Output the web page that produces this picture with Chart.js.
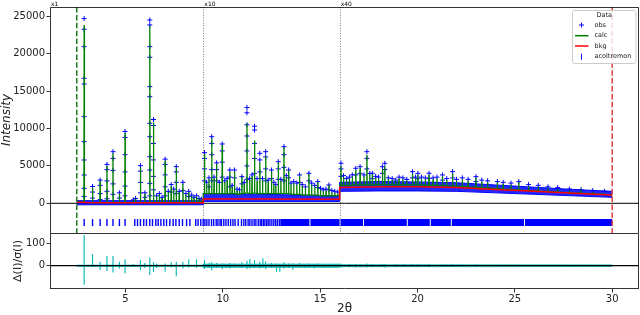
<!DOCTYPE html>
<html><head><meta charset="utf-8">
<script src="https://cdn.jsdelivr.net/npm/chart.js@4.4.0/dist/chart.umd.min.js"></script>
<style>
html,body{margin:0;padding:0;background:#fff;width:640px;height:315px;overflow:hidden}
canvas{position:absolute;left:0}
#top{top:0;width:640px;height:233px}
#bot{top:233px;width:640px;height:82px}
</style></head><body>
<canvas id="top" width="640" height="233"></canvas>
<canvas id="bot" width="640" height="82"></canvas>
<script>
// ---------------- data ----------------
const xLimits = [1.125, 31.375];
const dataRange = [2.5, 30];
const scaleBreaks = [9, 16];
const scaleLabels = ['x1', 'x10', 'x40'];
const xTicks = [5, 10, 15, 20, 25, 30];
const yTicksTop = [0, 5000, 10000, 15000, 20000, 25000];
const yTicksBot = [0, 100];
const yLimTop = [-3970, 26240];
const yLimBot = [-104, 146];
const legendLabels = ['obs', 'calc', 'bkg', 'acoltremon'];

// peak positions (2θ), calc foot level, calc apex, observed points along each peak (scaled as displayed)
const pkX = [2.88,3.31,3.70,4.05,4.36,4.69,4.98,5.40,5.52,5.77,6.00,6.25,6.44,6.60,6.74,6.88,7.04,7.20,7.35,7.48,7.61,7.76,7.95,8.10,8.25,8.40,8.52,8.65,8.78,8.90,
 9.06,9.17,9.29,9.43,9.55,9.68,9.82,9.97,10.10,10.22,10.36,10.48,10.60,10.73,10.86,10.98,11.10,11.24,11.38,11.50,11.63,11.76,11.90,12.04,12.20,12.33,12.50,12.62,12.72,12.85,12.98,13.14,13.26,13.38,13.50,13.64,13.80,13.94,14.08,14.24,14.42,14.56,14.72,14.88,15.02,15.16,15.30,15.45,15.60,15.75,15.90,
 16.07,16.20,16.35,16.50,16.65,16.83,17.05,17.25,17.40,17.55,17.68,17.85,18.00,18.20,18.32,18.50,18.70,18.88,19.05,19.25,19.45,19.74,19.90,20.02,20.20,20.40,20.59,20.80,21.00,21.28,21.50,21.80,22.00,22.30,22.60,23.00,23.30,23.60,24.10,24.40,24.80,25.20,25.70,26.20,26.70,27.20,27.80,28.40,29.00,29.60];
const pkFoot = [120,100,100,100,100,100,100,100,100,100,100,120,110,100,100,100,110,100,100,100,110,100,110,100,100,100,100,100,100,100,
 1300,1300,1300,1300,1300,1300,1300,1300,1300,1300,1300,1300,1300,1200,1200,1300,1300,1400,1300,1300,1400,1300,1300,1300,1300,1300,1300,1300,1300,1300,1300,1300,1300,1300,1200,1200,1200,1200,1100,1100,1100,1100,1100,1100,1000,1000,1000,1000,1000,1000,1000,
 2400,2400,2400,2400,2400,2450,2450,2450,2500,2450,2450,2450,2450,2500,2500,2450,2450,2450,2450,2450,2450,2450,2450,2450,2450,2400,2400,2400,2400,2350,2350,2300,2300,2250,2200,2150,2100,2050,1950,1900,1850,1800,1700,1650,1550,1500,1400,1350,1250,1200];
const pkCalc = [23800,2100,3000,5000,6700,1300,9400,400,600,4800,1300,23700,10800,900,1200,700,5700,1500,2300,1800,4700,1500,2600,1200,1500,1000,700,900,600,500,
 6600,2600,3200,8700,3300,5300,2600,7800,2800,3100,4300,2200,4300,1700,1600,3500,2600,10700,3100,3600,8400,3000,5500,3100,6300,2900,4300,2600,2300,5500,3000,7500,3500,4400,2500,2700,2500,3700,2300,2000,3900,2500,2200,2800,1800,1600,1700,2400,1500,1400,1300,
 5000,3500,3100,3300,3600,4500,4700,3600,6500,3800,3900,3400,3300,4600,5000,3200,3100,3000,3300,3200,3000,4000,3300,3800,3300,3200,3800,3200,3300,3600,3100,4000,3000,3200,3000,3400,2900,2800,2800,2600,2500,2800,2300,2200,2000,1900,1700,1600,1500,1400];
const pkObs = [
 [24700,23260,20940,16710,15950,11580,8240,5790,3780,2000,900],[2250,1500,700],[3100,2400,1300,500],[5200,4500,3000,1600,600],[6900,6000,4400,2600,1200],[1400,700],[9600,8800,6500,4200,2300,1000],[450],[650],[5030,4300,2800,1400],[1400,800],
 [24500,23840,20940,19520,15590,14250,10700,8900,6230,4450,2670,1000],[11200,10400,8000,5800,3600,1800],[1000],[1300],[800],[5900,5200,3800,2200,1000],[1600],[2500,1500],[1900],[4900,4200,2800,1300],[1600],[2800,1700],[1300],[1600,900],[1100],[800],[1000],[650],[550],
 [6770,6000,4600,3000],[2800],[3400,2200],[8900,8000,6500,4500,3000],[3500],[5400,4500,3000],[2800],[7930,7000,5500,3500],[3000],[3300],[4450,3500,2200],[2400],[4450,3400],[1900],[1800],[3560,2600],[2800],[12800,12100,10500,9000,7000,5000,3200],[3300],[3800],[10300,9800,8000,6000,4000],[3300],[6680,5800,4200],[3300],[6900,6200,4600,3000],[3100],[4450,3300],[2800],[2500],[5560,4600,3200],[3200],[7570,6500,4800,3000],[3700],[4450,3400],[2700],[2900],[2700],[3790,2800],[2500],[2200],[4010,3000],[2700],[2400],[2900,2100],[2000],[1800],[1900],[2450,1800],[1700],[1600],[1500],
 [5350,4600,3600],[3700],[3300],[3500],[3800],[4680,3800],[4890,4000],[3800],[6900,6000,4600],[4000],[4010,3300],[3600],[3500],[4890,4000],[5350,4500],[3400],[3300],[3110],[3500],[3400],[3200],[4230,3400],[3500],[4000,3300],[3500],[3400],[4010,3300],[3400],[3500],[3790,3100],[3300],[4230,3400],[3200],[3400],[3200],[3560,2900],[3100],[3000],[2900],[2800],[2700],[2900],[2500],[2400],[2200],[2100],[1900],[1800],[1700],[1600]];

// calc level at the region edges
const calcEdgeX = [2.5, 9, 9, 16, 16, 30];
const calcEdgeY = [150, 100, 1300, 1000, 2400, 1150];

// background
const bkgX = [2.5, 3, 4, 6, 8, 9, 9, 12, 16, 16, 18, 20, 22, 24, 26, 28, 30];
const bkgY = [150, 100, 80, 70, 65, 60, 580, 570, 540, 2100, 2200, 2200, 2100, 1850, 1600, 1350, 1120];

// envelope of the dense observed points between peaks
const bandX  = [2.5, 9, 9, 12, 16, 16, 18, 20, 22, 24, 26, 28, 30];
const bandLo = [-200, -200, 250, 250, 250, 1600, 1650, 1650, 1600, 1400, 1200, 1000, 800];
const bandHi = [350, 350, 1300, 1200, 1000, 2800, 2900, 2850, 2750, 2450, 2150, 1850, 1600];

// reflection ticks (acoltremon)
const tickX = [2.88,3.31,3.70,4.05,4.36,4.69,4.98,5.48,5.62,5.77,5.94,6.08,6.25,6.39,6.56,6.68,6.82,6.97,7.11,7.28,7.45,7.59,7.76,7.93,8.14,8.31,8.61,8.73,8.87,8.99,
 9.08,9.18,9.29,9.42,9.53,9.66,9.75,9.86,9.93,10.05,10.16,10.28,10.40,10.52,10.63,10.79,10.96,11.08,11.18,11.30,11.39,11.50,11.61,11.70,11.82,11.92,11.99,12.08,12.16,12.25,12.33,12.42,12.52,12.62,12.71,12.80,12.90];
const tickBandX0 = [12.95, 14.50, 16.05, 17.25, 19.50, 20.68, 21.76, 25.52];
const tickBandX1 = [14.45, 16.00, 17.20, 19.45, 20.63, 21.71, 25.47, 30.00];
const tickLevel = -2580;

// residual Δ/σ spikes
const resX  = [2.88,3.31,3.70,4.05,4.36,4.69,4.98,5.40,5.77,6.00,6.25,6.44,6.60,7.04,7.35,7.61,7.95,8.25,8.65,8.99,
 9.06,9.30,9.43,9.68,9.97,10.20,10.36,10.60,10.98,11.24,11.39,11.63,11.90,12.06,12.20,12.50,12.76,12.93,13.14,13.38,13.60,13.94,14.20,14.42,14.70,14.88,15.20,15.45,15.75,
 16.07,16.50,16.83,17.05,17.40,17.68,18.20,18.32,18.88,19.30,19.74,20.02,20.59,21.28,21.80,22.30,23.00,24.10,25.20,26.50,28.00,29.50];
const resHi = [137,51,18,43,43,18,29,8,26,12,37,15,10,10,15,18,18,29,29,8,
 25,12,15,12,10,8,12,10,15,22,30,25,18,33,20,12,10,8,15,10,10,12,8,10,8,10,6,8,6,
 10,8,8,7,10,6,8,7,5,6,7,6,6,5,6,5,5,4,4,4,3,3];
const resLo = [-85,-5,-19,-24,-30,-12,-34,-6,-19,-10,-42,-27,-10,-27,-8,-47,-12,-8,-10,-6,
 -15,-10,-20,-8,-15,-10,-12,-8,-10,-15,-12,-10,-12,-10,-15,-10,-27,-27,-12,-10,-18,-8,-10,-8,-12,-6,-8,-6,-5,
 -8,-6,-8,-7,-8,-6,-6,-8,-5,-5,-6,-5,-6,-5,-5,-4,-5,-4,-4,-3,-3,-3];
const resBandX  = [2.5, 9, 9, 16, 16, 30];
const resBandLo = [-3, -3, -8, -8, -5, -4];
const resBandHi = [3, 3, 8, 8, 5, 4];

// ---------------- build datasets ----------------
const FONT = "'DejaVu Sans', sans-serif";
Chart.defaults.font.family = FONT;
Chart.defaults.color = '#222';
const BLUE = '#0000ff', GREEN = '#008000', RED = '#ff0000', CYAN = '#00b5b5';

const xy = (xs, ys) => xs.map((x, i) => ({x, y: ys[i]}));

const calcPts = xy(calcEdgeX, calcEdgeY);
pkX.forEach((x, i) => calcPts.push({x: x - 0.012, y: pkFoot[i]}, {x, y: pkCalc[i]}, {x: x + 0.012, y: pkFoot[i]}));
calcPts.sort((a, b) => a.x - b.x);

const obsPts = [];
pkX.forEach((x, i) => pkObs[i].forEach(v => obsPts.push({x, y: v})));

const tickPts = tickX.map(x => ({x, y: tickLevel}));
const tickBandPts = [];
tickBandX0.forEach((x0, i) => tickBandPts.push({x: x0, y: tickLevel}, {x: tickBandX1[i], y: tickLevel}, {x: tickBandX1[i] + 0.001, y: null}));

const resPts = [{x: dataRange[0], y: 0}];
resX.forEach((x, i) => resPts.push({x, y: 0}, {x, y: resHi[i]}, {x, y: resLo[i]}, {x, y: 0}));
resPts.push({x: dataRange[1], y: 0});

const lineDs = (label, data, color, width, order, extra) => Object.assign({
  label, data, showLine: true, borderColor: color, backgroundColor: color, borderWidth: width,
  pointRadius: 0, pointHoverRadius: 0, tension: 0, fill: false, order
}, extra || {});

// ---------------- plugins ----------------
function drawFrame(ctx, a, sides) {
  ctx.save();
  ctx.strokeStyle = '#000'; ctx.lineWidth = 0.8; ctx.setLineDash([]);
  const L = Math.round(a.left) + 0.5, R = Math.round(a.right) - 0.5, T = Math.round(a.top) + 0.5, B = Math.round(a.bottom) - 0.5;
  ctx.beginPath();
  if (sides.includes('t')) { ctx.moveTo(L, T); ctx.lineTo(R, T); }
  if (sides.includes('b')) { ctx.moveTo(L, B); ctx.lineTo(R, B); }
  if (sides.includes('l')) { ctx.moveTo(L, T); ctx.lineTo(L, B + 0.5); }
  if (sides.includes('r')) { ctx.moveTo(R, T); ctx.lineTo(R, B + 0.5); }
  ctx.stroke();
  ctx.restore();
}
function vline(ctx, a, px, color, width, dash) {
  ctx.save();
  ctx.strokeStyle = color; ctx.lineWidth = width; ctx.setLineDash(dash);
  ctx.beginPath(); ctx.moveTo(px, a.top); ctx.lineTo(px, a.bottom); ctx.stroke();
  ctx.restore();
}

const topDeco = {
  id: 'topDeco',
  beforeDatasetsDraw(chart) {
    const {ctx, chartArea: a, scales: {x, y}} = chart;
    ctx.save();
    ctx.strokeStyle = '#000'; ctx.lineWidth = 1;
    const y0 = y.getPixelForValue(0);
    ctx.beginPath(); ctx.moveTo(a.left, y0); ctx.lineTo(a.right, y0); ctx.stroke();
    ctx.restore();
    scaleBreaks.forEach(b => vline(ctx, a, Math.round(x.getPixelForValue(b)) + 0.5, 'rgba(90,90,90,0.8)', 1, [1, 1.6]));
  },
  afterDatasetsDraw(chart) {
    const {ctx, chartArea: a, scales: {x}} = chart;
    vline(ctx, a, x.getPixelForValue(dataRange[0]), '#1f7a1f', 1.5, [5.5, 2.4]);
    vline(ctx, a, x.getPixelForValue(dataRange[1]), '#e04040', 1.5, [5.5, 2.4]);
  },
  afterDraw(chart) {
    const {ctx, chartArea: a, scales: {x}} = chart;
    drawFrame(ctx, a, 'tlr');
    ctx.save();
    ctx.fillStyle = '#000'; ctx.font = '6px ' + FONT; ctx.textAlign = 'left'; ctx.textBaseline = 'alphabetic';
    const lx = [xLimits[0]].concat(scaleBreaks);
    scaleLabels.forEach((t, i) => ctx.fillText(t, x.getPixelForValue(lx[i]) + 1, 5.5));
    ctx.restore();
    // legend
    ctx.save();
    const bx = 572.5, by = 10.5, bw = 63.5, bh = 53;
    ctx.fillStyle = 'rgba(255,255,255,0.8)'; ctx.strokeStyle = '#cccccc'; ctx.lineWidth = 1;
    ctx.beginPath(); ctx.roundRect(bx, by, bw, bh, 2); ctx.fill(); ctx.stroke();
    ctx.fillStyle = '#222'; ctx.font = '6.5px ' + FONT; ctx.textBaseline = 'middle';
    ctx.textAlign = 'center'; ctx.fillText('Data', bx + bw / 2, 15.8);
    ctx.textAlign = 'left';
    const rows = [25, 35.7, 46, 56.7];
    const mx = 581.5;
    ctx.strokeStyle = BLUE; ctx.lineWidth = 1;
    ctx.beginPath(); ctx.moveTo(mx - 2.5, rows[0]); ctx.lineTo(mx + 2.5, rows[0]); ctx.moveTo(mx, rows[0] - 2.5); ctx.lineTo(mx, rows[0] + 2.5); ctx.stroke();
    ctx.lineWidth = 1.5;
    ctx.strokeStyle = GREEN; ctx.beginPath(); ctx.moveTo(575, rows[1]); ctx.lineTo(588.5, rows[1]); ctx.stroke();
    ctx.strokeStyle = RED; ctx.beginPath(); ctx.moveTo(575, rows[2]); ctx.lineTo(588.5, rows[2]); ctx.stroke();
    ctx.strokeStyle = BLUE; ctx.lineWidth = 1;
    ctx.beginPath(); ctx.moveTo(mx, rows[3] - 3); ctx.lineTo(mx, rows[3] + 3); ctx.stroke();
    legendLabels.forEach((t, i) => ctx.fillText(t, 594.5, rows[i]));
    ctx.restore();
  }
};

const botDeco = {
  id: 'botDeco',
  afterDatasetsDraw(chart) {
    const {ctx, chartArea: a, scales: {y}} = chart;
    ctx.save();
    ctx.strokeStyle = '#000'; ctx.lineWidth = 1.2;
    const y0 = y.getPixelForValue(0);
    ctx.beginPath(); ctx.moveTo(a.left, y0); ctx.lineTo(a.right, y0); ctx.stroke();
    ctx.restore();
  },
  afterDraw(chart) {
    drawFrame(chart.ctx, chart.chartArea, 'tblr');
  }
};

const tickFont = {size: 10, family: FONT};
const yAxisCommon = {
  type: 'linear',
  afterFit(s) { s.width = 50; s.paddingTop = 0; s.paddingBottom = 0; },
  ticks: {callback: v => String(v), font: tickFont, color: '#222', padding: 1.5},
  grid: {drawOnChartArea: false, tickLength: 3.5, color: '#000', lineWidth: 0.8},
  border: {display: false}
};

// ---------------- top chart ----------------
new Chart(document.getElementById('top'), {
  type: 'scatter',
  data: {datasets: [
    lineDs('bkg', xy(bkgX, bkgY), RED, 1.5, 0),
    lineDs('calc', calcPts, GREEN, 1.3, 1),
    {label: 'obs', data: obsPts, pointStyle: 'cross', pointRadius: 2.5, pointHoverRadius: 2.5, pointBorderWidth: 1, borderColor: BLUE, backgroundColor: BLUE, order: 2},
    lineDs('obs envelope low', xy(bandX, bandLo), BLUE, 1, 3),
    lineDs('obs envelope high', xy(bandX, bandHi), BLUE, 1, 3, {fill: '-1', backgroundColor: 'rgba(0,0,255,0.85)'}),
    {label: 'acoltremon', data: tickPts, pointStyle: 'line', rotation: 90, pointRadius: 3.5, pointHoverRadius: 3.5, pointBorderWidth: 1.4, borderColor: BLUE, backgroundColor: BLUE, order: 4},
    lineDs('acoltremon (dense)', tickBandPts, BLUE, 7, 4, {borderCapStyle: 'butt', spanGaps: false})
  ]},
  options: {
    responsive: false, animation: false, devicePixelRatio: 1,
    layout: {autoPadding: false, padding: {top: 7, right: 1, left: 0, bottom: 0}},
    plugins: {legend: {display: false}, tooltip: {enabled: false}},
    events: [],
    scales: {
      x: {type: 'linear', min: xLimits[0], max: xLimits[1], display: false},
      y: Object.assign({}, yAxisCommon, {
        min: yLimTop[0], max: yLimTop[1],
        afterBuildTicks(s) { s.ticks = yTicksTop.map(v => ({value: v})); },
        title: {display: true, text: 'Intensity', font: {size: 12, style: 'italic', family: FONT}, color: '#222', padding: {top: 0, bottom: 0}}
      })
    }
  },
  plugins: [topDeco]
});

// ---------------- bottom chart ----------------
new Chart(document.getElementById('bot'), {
  type: 'scatter',
  data: {datasets: [
    lineDs('Δ/σ spikes', resPts, CYAN, 1.1, 0),
    lineDs('Δ/σ low', xy(resBandX, resBandLo), CYAN, 0.5, 1),
    lineDs('Δ/σ high', xy(resBandX, resBandHi), CYAN, 0.5, 1, {fill: '-1', backgroundColor: 'rgba(0,170,170,0.8)'})
  ]},
  options: {
    responsive: false, animation: false, devicePixelRatio: 1,
    layout: {autoPadding: false, padding: {top: 0, right: 1, left: 0, bottom: 0}},
    plugins: {legend: {display: false}, tooltip: {enabled: false}},
    events: [],
    scales: {
      x: {
        type: 'linear', min: xLimits[0], max: xLimits[1],
        afterFit(s) { s.height = 26; },
        afterBuildTicks(s) { s.ticks = xTicks.map(v => ({value: v})); },
        ticks: {callback: v => String(v), font: tickFont, color: '#222', padding: 1, maxRotation: 0, autoSkip: false},
        grid: {drawOnChartArea: false, tickLength: 3.5, color: '#000', lineWidth: 0.8},
        border: {display: false},
        title: {display: true, text: '2θ', font: {size: 12, lineHeight: 1, family: FONT}, color: '#222', padding: {top: 0, bottom: 0}}
      },
      y: Object.assign({}, yAxisCommon, {
        min: yLimBot[0], max: yLimBot[1],
        afterBuildTicks(s) { s.ticks = yTicksBot.map(v => ({value: v})); },
        title: {display: true, text: 'Δ(I)/σ(I)', font: {size: 11, family: FONT}, color: '#222', padding: {top: 11.5, bottom: 0}}
      })
    }
  },
  plugins: [botDeco]
});
</script></body></html>
